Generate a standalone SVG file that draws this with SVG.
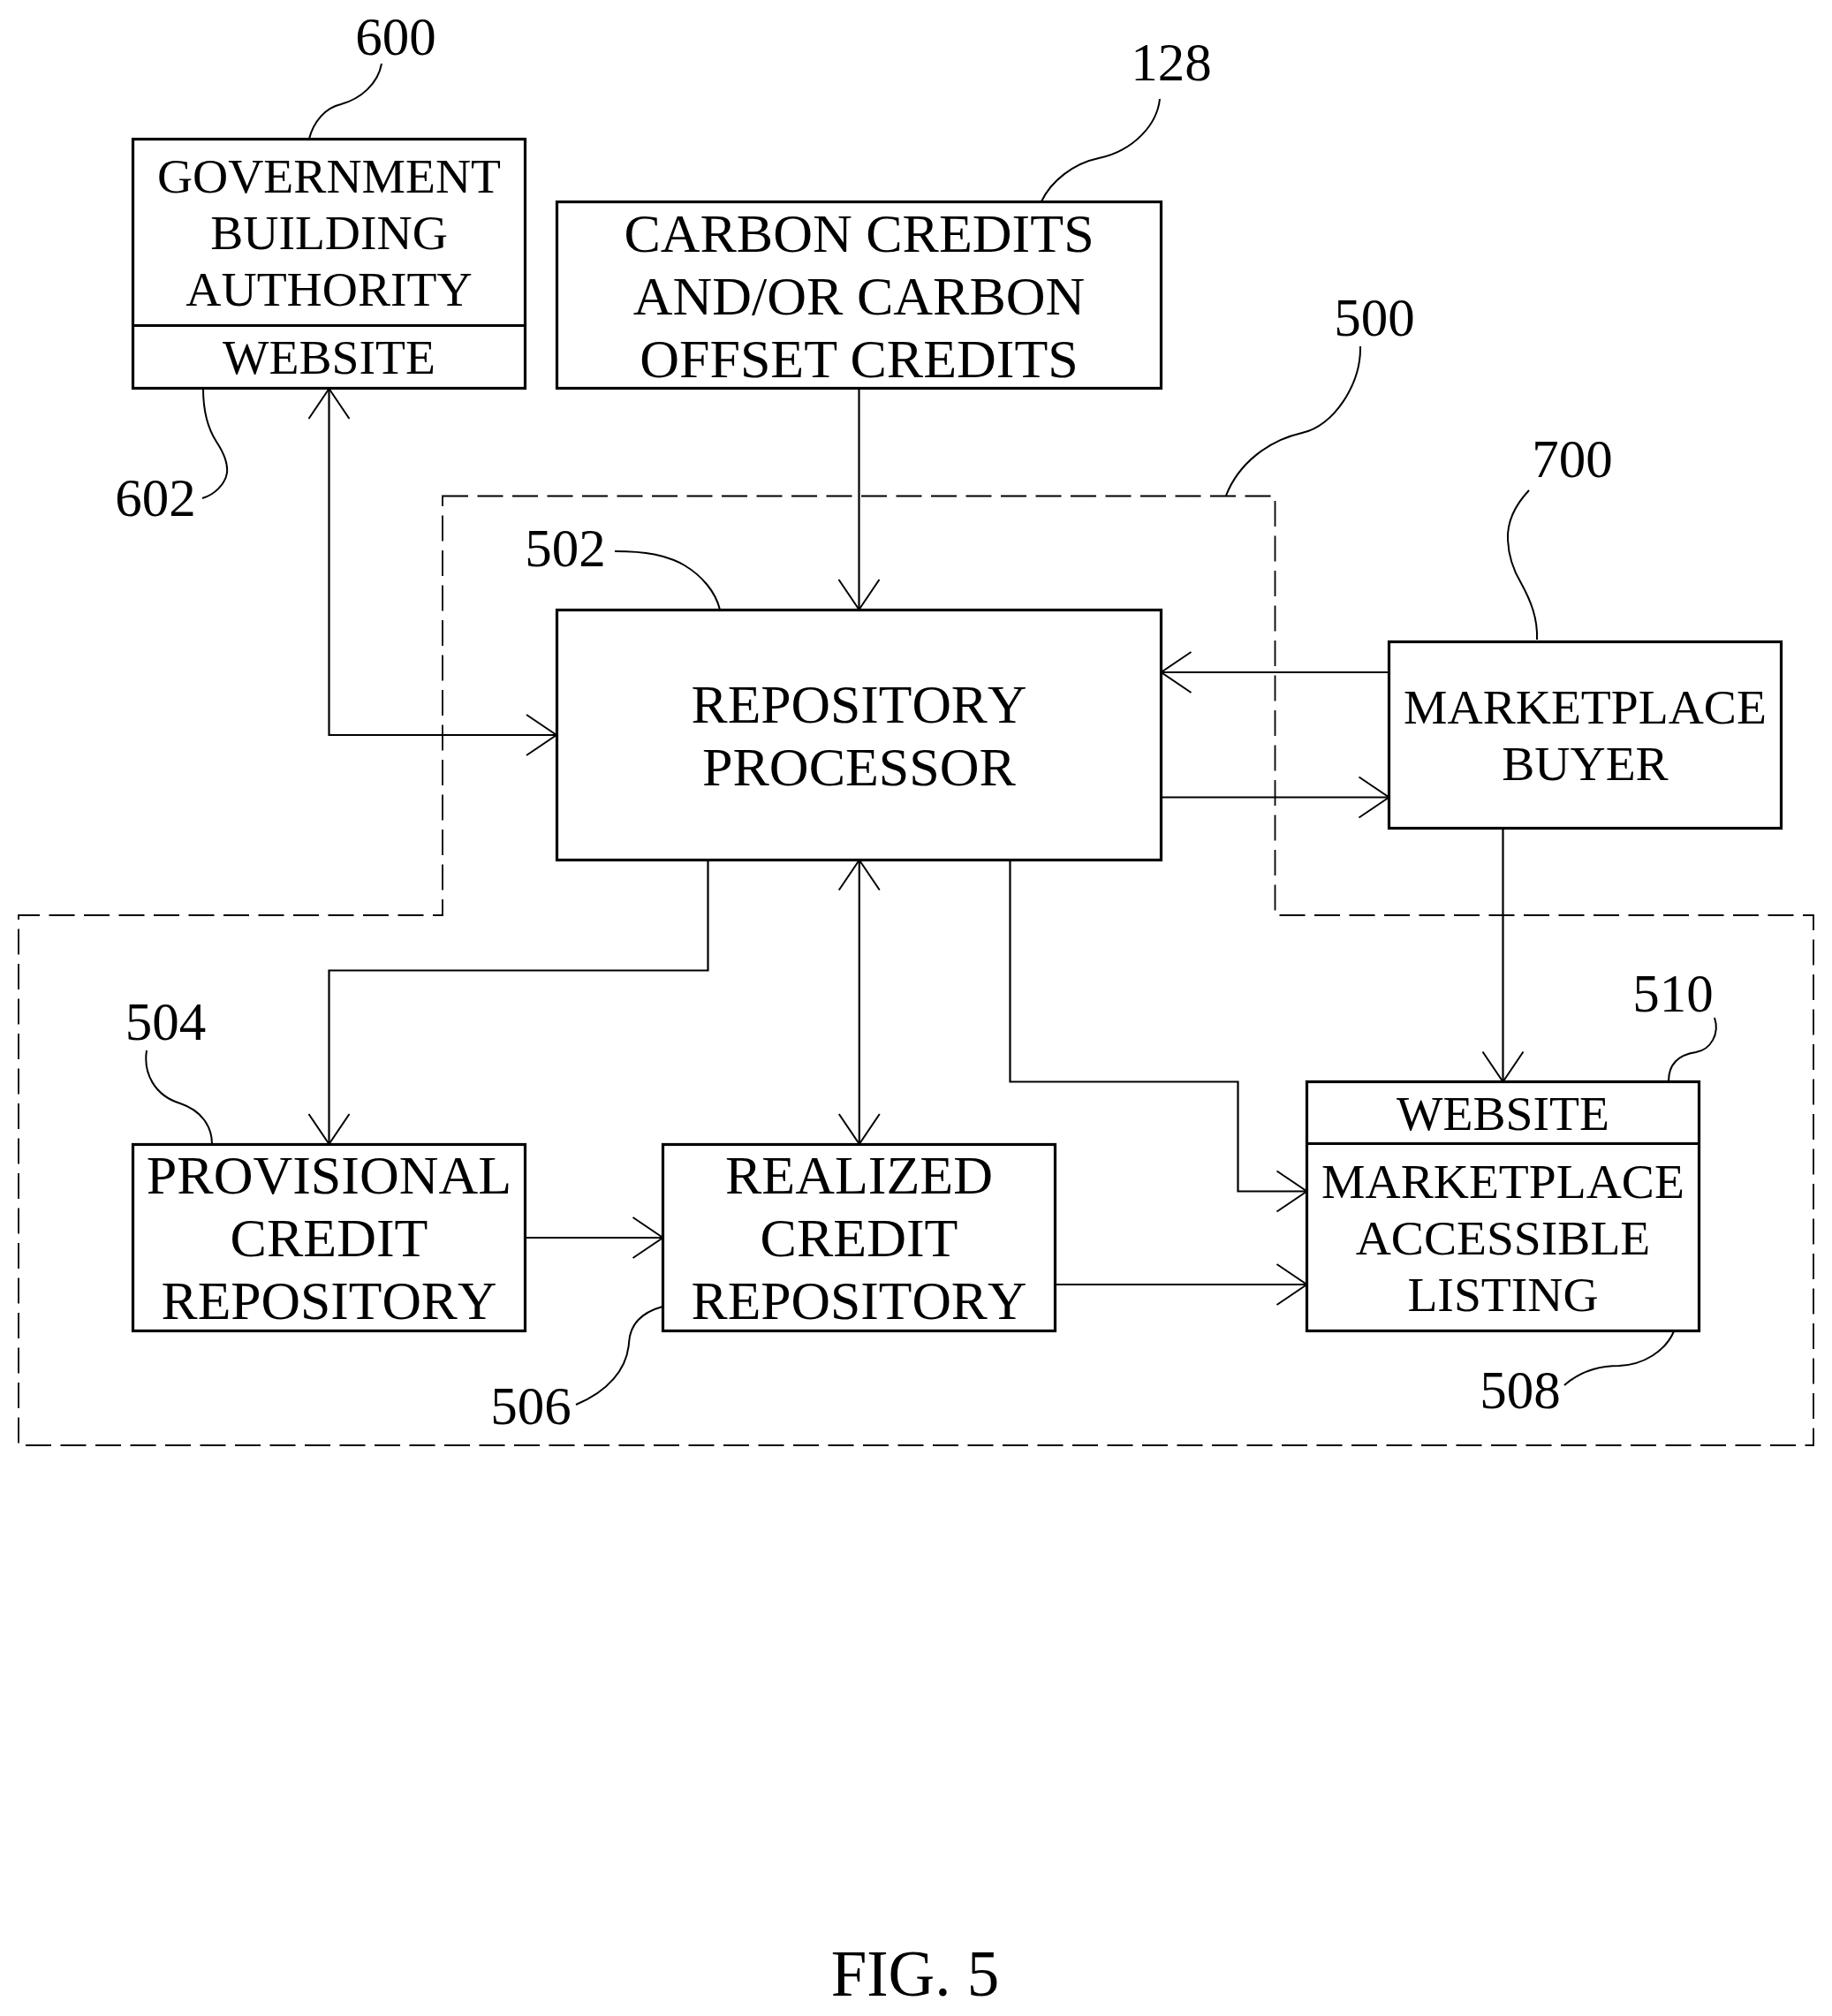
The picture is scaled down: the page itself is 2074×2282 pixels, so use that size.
<svg xmlns="http://www.w3.org/2000/svg" width="2074" height="2282" viewBox="0 0 2074 2282">
<style>
text{font-family:"Liberation Serif","Times New Roman",serif;fill:#000;text-anchor:middle}
.t62{font-size:62px}.t56{font-size:55.6px}.num{font-size:61px}.fig{font-size:73px}
.nk{font-kerning:none;font-size:61.6px}
.box{fill:#fff;stroke:#000;stroke-width:3.2}
.div{fill:none;stroke:#000;stroke-width:3.2}
.conn{fill:none;stroke:#000;stroke-width:2.2}
.lead{fill:none;stroke:#000;stroke-width:2}
.dash{fill:none;stroke:#000;stroke-width:1.8;stroke-dasharray:29 10.5}
</style>
<defs>
<marker id="arr" markerUnits="userSpaceOnUse" markerWidth="40" markerHeight="52" viewBox="0 0 40 52" refX="36" refY="26" orient="auto-start-reverse">
<path d="M2 3 L36 26 L2 49" fill="none" stroke="#000" stroke-width="2"/>
</marker>
</defs>
<rect width="2074" height="2282" fill="#fff"/>
<g id="boundary-500"><path class="dash" d="M501 561.5H1443.5V1036H2053V1636H21V1036H501Z"/></g>
<g id="connectors">
<path class="conn" marker-start="url(#arr)" marker-end="url(#arr)" d="M372.500 440V832H630"/>
<path class="conn" marker-end="url(#arr)" d="M972.500 440V690"/>
<path class="conn" marker-end="url(#arr)" d="M1572.500 761H1314.500"/>
<path class="conn" marker-end="url(#arr)" d="M1314.500 902.500H1572.500"/>
<path class="conn" marker-end="url(#arr)" d="M801.500 973.500V1098.500H372.500V1295"/>
<path class="conn" marker-start="url(#arr)" marker-end="url(#arr)" d="M972.800 973.500V1295"/>
<path class="conn" marker-end="url(#arr)" d="M1143.500 973.500V1224.500H1401.500V1348.500H1479.500"/>
<path class="conn" marker-end="url(#arr)" d="M1701.500 937V1224.500"/>
<path class="conn" marker-end="url(#arr)" d="M594.500 1401H750.500"/>
<path class="conn" marker-end="url(#arr)" d="M1194.500 1454H1479.500"/>
</g>
<g id="leaders">
<path class="lead" d="M432 72C428 95 408 112 386 118C368 122 355 138 350 157"/>
<path class="lead" d="M230 440C230 468 236 486 245 500C255 515 258 525 257 535C255 548 243 560 229 564"/>
<path class="lead" d="M1313 112C1310 140 1285 170 1244 179C1215 185 1190 205 1179 228"/>
<path class="lead" d="M1540 392C1541 435 1510 482 1474 490C1435 499 1402 525 1388 561"/>
<path class="lead" d="M1731 555C1715 572 1706 590 1707 611C1708 635 1716 650 1722 660C1733 680 1741 700 1740 724"/>
<path class="lead" d="M696 624C730 624 755 628 775 640C795 652 810 670 815 690"/>
<path class="lead" d="M166 1189C162 1215 175 1240 204 1249C228 1257 240 1275 240 1295"/>
<path class="lead" d="M750 1479C725 1486 713 1500 712 1520C710 1550 688 1575 652 1590"/>
<path class="lead" d="M1941 1152C1947 1170 1937 1188 1920 1191C1900 1194 1889 1205 1889 1224"/>
<path class="lead" d="M1895 1507C1885 1530 1860 1545 1833 1546C1810 1546 1788 1553 1771 1568"/>
</g>
<g id="node-600">
<rect class="box" x="150.500" y="157.500" width="444" height="282"/>
<path class="div" d="M150.500 368.500H594.500"/>
<text class="t56" x="372.500" y="218">GOVERNMENT</text>
<text class="t56" x="372.500" y="282">BUILDING</text>
<text class="t56" x="372.500" y="346">AUTHORITY</text>
<text class="t56" x="372.500" y="423">WEBSITE</text>
</g>
<g id="node-128">
<rect class="box" x="630.500" y="228.500" width="684" height="211"/>
<text class="t62" x="972.500" y="284.500">CARBON CREDITS</text>
<text class="t62" x="972.500" y="355.500">AND/OR CARBON</text>
<text class="t62" x="972.500" y="426.500">OFFSET CREDITS</text>
</g>
<g id="node-502">
<rect class="box" x="630.500" y="690.500" width="684" height="283"/>
<text class="t62 nk" x="972.500" y="817.500">REPOSITORY</text>
<text class="t62" x="972.500" y="888.500">PROCESSOR</text>
</g>
<g id="node-700">
<rect class="box" x="1572.500" y="726.500" width="444" height="211"/>
<text class="t56" x="1794.500" y="819">MARKETPLACE</text>
<text class="t56" x="1794.500" y="883">BUYER</text>
</g>
<g id="node-504">
<rect class="box" x="150.500" y="1295.500" width="444" height="211"/>
<text class="t62" x="372.500" y="1351">PROVISIONAL</text>
<text class="t62" x="372.500" y="1422">CREDIT</text>
<text class="t62 nk" x="372.500" y="1493">REPOSITORY</text>
</g>
<g id="node-506">
<rect class="box" x="750.500" y="1295.500" width="444" height="211"/>
<text class="t62" x="972.500" y="1351">REALIZED</text>
<text class="t62" x="972.500" y="1422">CREDIT</text>
<text class="t62 nk" x="972.500" y="1493">REPOSITORY</text>
</g>
<g id="node-508">
<rect class="box" x="1479.500" y="1224.500" width="444" height="282"/>
<path class="div" d="M1479.500 1294.500H1923.500"/>
<text class="t56" x="1701.500" y="1279">WEBSITE</text>
<text class="t56" x="1701.500" y="1356">MARKETPLACE</text>
<text class="t56" x="1701.500" y="1420">ACCESSIBLE</text>
<text class="t56" x="1701.500" y="1484">LISTING</text>
</g>
<g id="labels">
<text class="num" x="448" y="62">600</text>
<text class="num" x="176" y="584">602</text>
<text class="num" x="1326" y="91">128</text>
<text class="num" x="1556" y="380">500</text>
<text class="num" x="1780" y="540">700</text>
<text class="num" x="640" y="641">502</text>
<text class="num" x="187.500" y="1177">504</text>
<text class="num" x="601" y="1612">506</text>
<text class="num" x="1894" y="1145">510</text>
<text class="num" x="1721" y="1594">508</text>
<text class="fig" x="1036" y="2259">FIG. 5</text>
</g>
</svg>
